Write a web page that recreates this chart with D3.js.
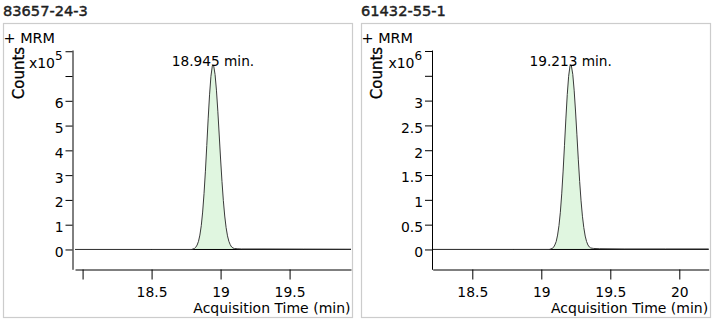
<!DOCTYPE html>
<html>
<head>
<meta charset="utf-8">
<script src="https://cdn.jsdelivr.net/npm/d3@7/dist/d3.min.js"></script>
<style>
  html, body { margin: 0; padding: 0; background: #fff; }
  svg { display: block; }
  text { font-family: "DejaVu Sans", Verdana, sans-serif; fill: #000; }
</style>
</head>
<body>
<svg id="chart" width="714" height="323"></svg>
<script>
// ---- Chromatogram data (counts are in units of 10^exponent) ----
const titles = ["83657-24-3", "61432-55-1"];
const scanLabels = ["+ MRM", "+ MRM"];
const exponents = [5, 6];
const apexTimes = [18.945, 19.213];
const timeWindows = [[17.945, 19.945], [18.213, 20.213]];
const countRanges = [[-0.8, 8.05], [-0.4, 4.02]];
const integrationBounds = [[18.79, 19.10], [19.058, 19.368]];

const yTicks1 = [0, 1, 2, 3, 4, 5, 6, 7, 8];
const yTickLabels1 = ["0", "1", "2", "3", "4", "5", "6", "", ""];
const yTicks2 = [0, 0.5, 1, 1.5, 2, 2.5, 3, 3.5, 4];
const yTickLabels2 = ["0", "0.5", "1", "1.5", "2", "2.5", "3", "", ""];
const xTicks1 = [18, 18.5, 19, 19.5];
const xTickLabels1 = ["", "18.5", "19", "19.5"];
const xTicks2 = [18.5, 19, 19.5, 20];
const xTickLabels2 = ["18.5", "19", "19.5", "20"];

const trace1Time = [17.945, 18.5, 18.79, 18.80, 18.81, 18.82, 18.83, 18.84, 18.85, 18.86, 18.87,
  18.88, 18.89, 18.90, 18.91, 18.92, 18.93, 18.94, 18.945, 18.95, 18.96, 18.97, 18.98, 18.99,
  19.00, 19.01, 19.02, 19.03, 19.04, 19.05, 19.06, 19.07, 19.08, 19.09, 19.10, 19.12, 19.15,
  19.30, 19.60, 19.945];
const trace1Counts = [0, 0, 0, 0.02, 0.04, 0.09, 0.18, 0.33, 0.58, 0.96, 1.51,
  2.25, 3.16, 4.20, 5.27, 6.24, 6.99, 7.40, 7.45, 7.41, 7.06, 6.43, 5.58, 4.62,
  3.65, 2.75, 1.97, 1.35, 0.88, 0.55, 0.33, 0.19, 0.10, 0.06, 0.04, 0.03, 0.02,
  0.02, 0.015, 0.01];

const trace2Time = [18.213, 18.8, 19.058, 19.068, 19.078, 19.088, 19.098, 19.108, 19.118, 19.128,
  19.138, 19.148, 19.158, 19.168, 19.178, 19.188, 19.198, 19.208, 19.213, 19.218, 19.228,
  19.238, 19.248, 19.258, 19.268, 19.278, 19.288, 19.298, 19.308, 19.318, 19.328, 19.338,
  19.348, 19.358, 19.368, 19.38, 19.42, 19.60, 19.90, 20.213];
const trace2Counts = [0, 0, 0, 0.01, 0.02, 0.04, 0.09, 0.16, 0.29, 0.48,
  0.75, 1.12, 1.58, 2.10, 2.63, 3.12, 3.49, 3.70, 3.72, 3.70, 3.53,
  3.21, 2.79, 2.31, 1.82, 1.37, 0.98, 0.67, 0.44, 0.27, 0.16, 0.09,
  0.05, 0.03, 0.025, 0.02, 0.015, 0.01, 0.01, 0.01];

const series = [
  { time: trace1Time, counts: trace1Counts, yTicks: yTicks1, yLabels: yTickLabels1, xTicks: xTicks1, xLabels: xTickLabels1 },
  { time: trace2Time, counts: trace2Counts, yTicks: yTicks2, yLabels: yTickLabels2, xTicks: xTicks2, xLabels: xTickLabels2 }
];

// ---- Layout of the two panels ----
const layout = [
  { frame: [3.5, 23.5, 349, 294], yAxisX: 72.5, plotX: [75, 351] },
  { frame: [361.5, 23.5, 349, 294], yAxisX: 432, plotX: [432.7, 708.7] }
];
const plotY = [269.3, 50];
const xAxisY = 269.5;

const svg = d3.select("#chart");

series.forEach((s, i) => {
  const L = layout[i];
  const g = svg.append("g");

  const x = d3.scaleLinear().domain(timeWindows[i]).range(L.plotX);
  const y = d3.scaleLinear().domain(countRanges[i]).range(plotY);

  // panel title and frame
  g.append("text")
    .attr("x", L.frame[0] - 0.5).attr("y", 16)
    .style("font-size", "14.6px").style("fill", "#1e1e1e")
    .style("stroke", "#1e1e1e").style("stroke-width", "0.45px")
    .text(titles[i]);
  g.append("rect")
    .attr("x", L.frame[0]).attr("y", L.frame[1])
    .attr("width", L.frame[2]).attr("height", L.frame[3])
    .attr("fill", "none").attr("stroke", "#cccccc").attr("stroke-width", 1.2);

  g.append("text")
    .attr("x", L.frame[0]).attr("y", 43.3)
    .style("font-size", "14.4px")
    .text(scanLabels[i]);

  // y axis title and multiplier
  g.append("text")
    .attr("transform", `translate(${L.frame[0] + 20.5},73) rotate(-90)`)
    .attr("text-anchor", "middle")
    .style("font-size", "15px")
    .style("stroke", "#000").style("stroke-width", "0.3px")
    .text("Counts");
  g.append("text")
    .attr("x", L.yAxisX - 17.5).attr("y", 68.3)
    .attr("text-anchor", "end")
    .style("font-size", "14px")
    .text("x10");
  g.append("text")
    .attr("x", L.yAxisX - 17.5).attr("y", 60)
    .style("font-size", "12px")
    .text(String(exponents[i]));

  // integrated peak area
  const pts = s.time.map((t, k) => [t, s.counts[k]]);
  const [b0, b1] = integrationBounds[i];
  const areaPts = pts.filter(p => p[0] >= b0 && p[0] <= b1);
  g.append("path")
    .datum(areaPts)
    .attr("fill", "#e0f6e0")
    .attr("d", d3.area().x(p => x(p[0])).y0(y(0)).y1(p => y(p[1])));

  // zero line
  g.append("line")
    .attr("x1", L.plotX[0]).attr("x2", L.plotX[1])
    .attr("y1", y(0)).attr("y2", y(0))
    .attr("stroke", "#000").attr("stroke-width", 1);

  // signal trace
  g.append("path")
    .datum(pts)
    .attr("fill", "none")
    .attr("stroke", "#3a3a3a").attr("stroke-width", 1)
    .attr("d", d3.line().x(p => x(p[0])).y(p => y(p[1])));

  // apex label
  const apexIdx = s.time.indexOf(apexTimes[i]);
  g.append("text")
    .attr("x", x(apexTimes[i])).attr("y", y(s.counts[apexIdx]) + 1)
    .attr("text-anchor", "middle")
    .style("font-size", "13.7px")
    .text(`${d3.format(".3f")(apexTimes[i])} min.`);

  // axes
  const yAxis = d3.axisLeft(y)
    .tickValues(s.yTicks)
    .tickFormat((d, k) => s.yLabels[k])
    .tickSize(7).tickSizeOuter(0).tickPadding(2);
  const ya = g.append("g").attr("transform", `translate(${L.yAxisX},0)`).call(yAxis);
  ya.selectAll("text").attr("dy", "0.5em").style("font-size", "13.9px")
    .style("font-family", "DejaVu Sans, sans-serif");

  const xAxis = d3.axisBottom(x)
    .tickValues(s.xTicks)
    .tickFormat((d, k) => s.xLabels[k])
    .tickSize(10).tickSizeOuter(0).tickPadding(8);
  const xa = g.append("g").attr("transform", `translate(0,${xAxisY})`).call(xAxis);
  xa.selectAll("text").style("font-size", "13.9px")
    .style("font-family", "DejaVu Sans, sans-serif");

  [ya, xa].forEach(a => {
    a.selectAll("path.domain").attr("stroke", "#000");
    a.selectAll(".tick line").attr("stroke", "#000");
    a.selectAll("text").attr("fill", "#000");
  });

  g.append("text")
    .attr("x", L.plotX[1] - 0.5).attr("y", 313.3)
    .attr("text-anchor", "end")
    .style("font-size", "14px")
    .text("Acquisition Time (min)");
});
</script>
</body>
</html>
